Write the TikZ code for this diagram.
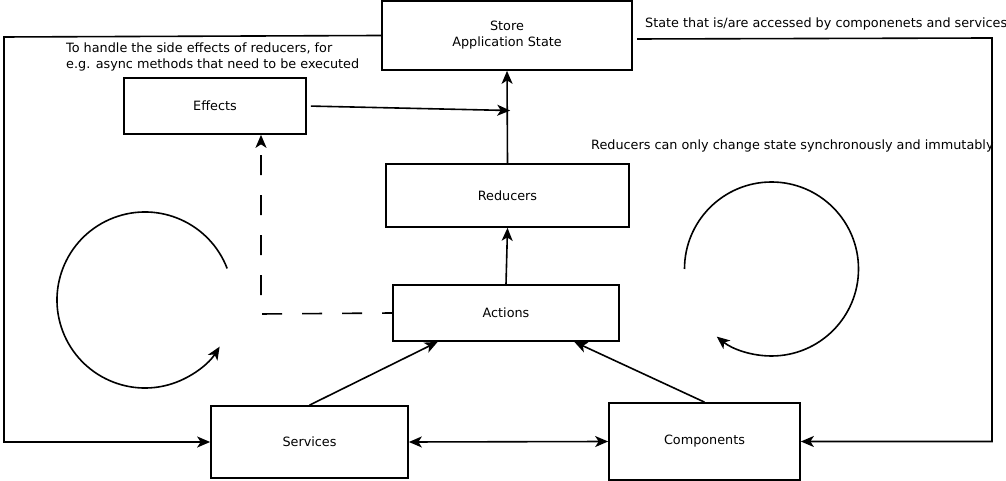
\documentclass[tikz,border=0pt]{standalone}
\usepackage{fontspec}
\setmainfont{DejaVu Sans}
\usetikzlibrary{calc,arrows.meta}

\begin{document}
\begin{tikzpicture}[x=1pt, y=1pt,
		box/.style={draw, line width=1.7pt, rectangle, inner sep=0pt, align=center, font=\fontsize{12.8}{16}\selectfont},
		note/.style={inner sep=0pt, align=left, font=\fontsize{12.8}{16}\selectfont},
		flow/.style={line width=1.6pt, -{Stealth[length=13pt, width=11pt, inset=3.5pt]}},
		loop/.style={line width=1.6pt, -{Stealth[length=13pt, width=11pt, inset=3.5pt]}}]
			%%%%% START %%%%%
			
			\useasboundingbox (0, 0) rectangle (1006, 481);
			
			\node[box, minimum width=250, minimum height=69] (store) at (507, 445.5) {Store\\Application State};
			\node[box, minimum width=182, minimum height=56] (effects) at (215, 375) {Effects};
			\node[box, minimum width=243, minimum height=63] (reducers) at (507.5, 285.5) {Reducers};
			\node[box, minimum width=226, minimum height=56] (actions) at (506, 168) {Actions};
			\node[box, minimum width=197, minimum height=72] (services) at (309.5, 39) {Services};
			\node[box, minimum width=191, minimum height=77] (components) at (704.5, 39.5) {Components};
			
			\node[note, anchor=west] (sidenote) at (66, 424) {To handle the side effects of reducers, for\\e.g. async methods that need to be executed};
			\node[note, anchor=west] (statenote) at (645, 457) {State that is/are accessed by componenets and services};
			\node[note, anchor=west] (reducenote) at (591, 335) {Reducers can only change state synchronously and immutably};
			
			\draw[flow] (reducers.north) -- (store.south);
			\draw[flow] (actions.north) -- (reducers.south);
			\coordinate (merge) at ($(store.south)!0.43!(reducers.north)+(3,0)$);
			\draw[flow, shorten <=4pt] (effects.east) -- (merge);
			
			\coordinate (bend) at (261, 167);
			\draw[flow, dash pattern=on 20pt off 20pt, dash phase=10pt] (actions.west) -- (bend) -- (bend |- effects.south);
			
			\draw[flow] (services.north) -- ($(actions.south west)!0.2!(actions.south east)$);
			\draw[flow] (components.north) -- ($(actions.south west)!0.8!(actions.south east)$);
			\draw[flow, {Stealth[length=13pt, width=11pt, inset=3.5pt]}-{Stealth[length=13pt, width=11pt, inset=3.5pt]}] (services.east) -- (components.west);
			
			\coordinate (lefttop) at (4, 444);
			\draw[flow] (store.west) -- (lefttop) |- (services.west);
			\coordinate (statefrom) at (637, 442);
			\coordinate (righttop) at (992, 443);
			\draw[flow] (statefrom) -- (righttop) |- (components.east);
			
			\draw[loop] (145, 181) ++(21:88) arc (21:328:88);
			\draw[loop] (771.5, 212) ++(180:87) arc (180:-129:87);
			
			%%%%% END %%%%%
\end{tikzpicture}
\end{document}
